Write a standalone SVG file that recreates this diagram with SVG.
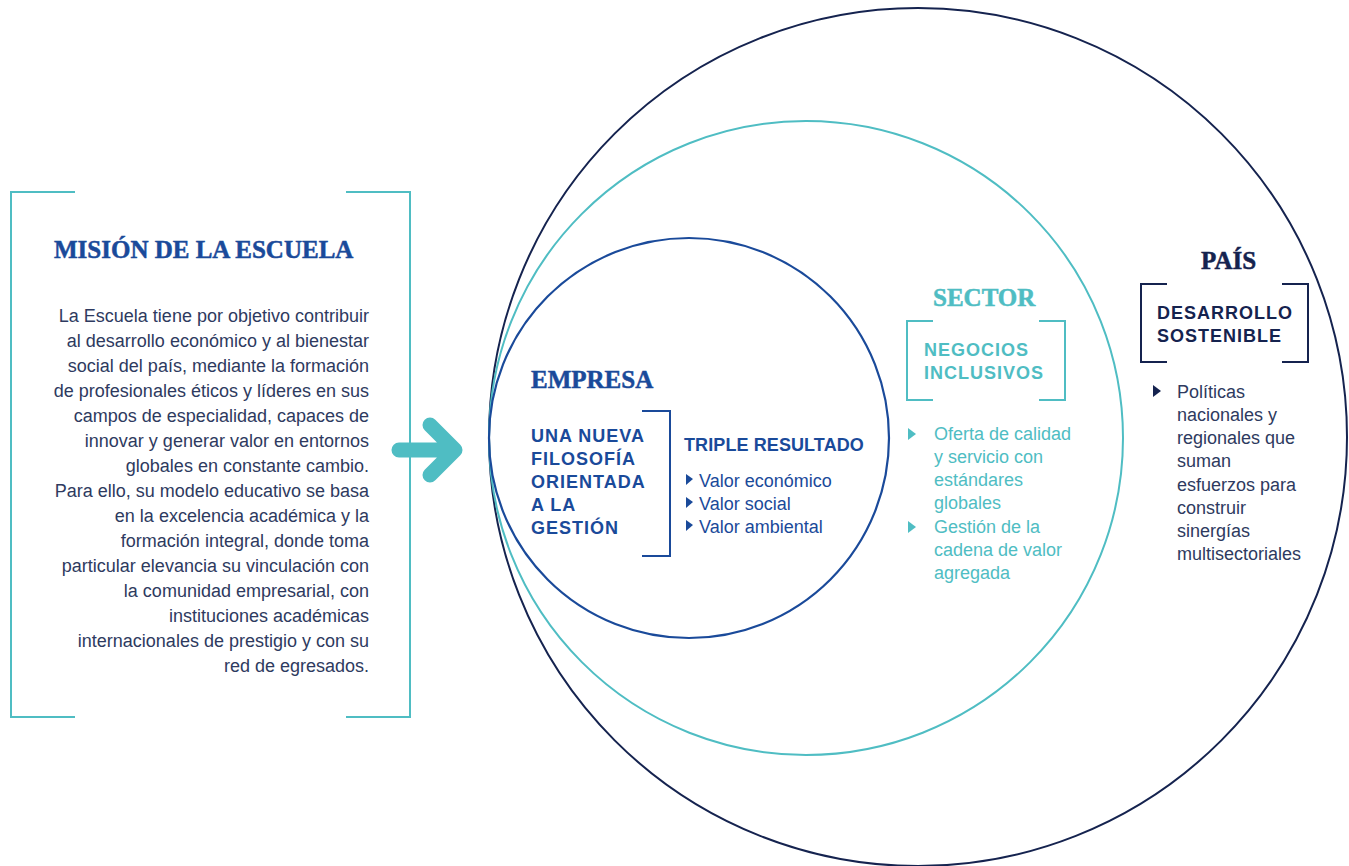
<svg xmlns="http://www.w3.org/2000/svg" width="1349" height="866" viewBox="0 0 1349 866">
<style>
.bg{fill:#ffffff}
.ser{font-family:"Liberation Serif","Times New Roman",serif;font-weight:bold;font-size:25px;stroke-width:0.5px}
.hd{font-family:"Liberation Sans",Arial,sans-serif;font-weight:bold;font-size:18px;letter-spacing:1px}
.bd{font-family:"Liberation Sans",Arial,sans-serif;font-size:18px}
.teal{fill:#4fbdc3}
.navy{fill:#15234f}
.blue{fill:#1a4a9a}
.body{fill:#2e3a60}
.ser.teal{stroke:#4fbdc3}
.ser.navy{stroke:#15234f}
.ser.blue{stroke:#1a4a9a}
.brT{fill:none;stroke:#4fbdc3;stroke-width:2}
.brB{fill:none;stroke:#1a4a9a;stroke-width:2}
.brN{fill:none;stroke:#15234f;stroke-width:2}
</style>
<rect class="bg" x="0" y="0" width="1349" height="866"/>

<g id="circles">
  <circle id="pais-circle" cx="918" cy="437" r="429" fill="none" stroke="#15234f" stroke-width="2"/>
  <circle id="sector-circle" cx="806" cy="438" r="317" fill="none" stroke="#4fbdc3" stroke-width="2"/>
  <circle id="empresa-circle" cx="689" cy="438" r="200" fill="none" stroke="#1a4a9a" stroke-width="2.2"/>
</g>

<g id="mision">
  <path class="brT" d="M75 192 H11 V717 H75 M346 192 H410 V717 H346"/>
  <text class="ser blue" x="54" y="258">MISIÓN DE LA ESCUELA</text>
  <g class="bd body" text-anchor="end">
    <text x="369" y="322">La Escuela tiene por objetivo contribuir</text>
    <text x="369" y="347">al desarrollo económico y al bienestar</text>
    <text x="369" y="372">social del país, mediante la formación</text>
    <text x="369" y="397">de profesionales éticos y líderes en sus</text>
    <text x="369" y="422">campos de especialidad, capaces de</text>
    <text x="369" y="447">innovar y generar valor en entornos</text>
    <text x="369" y="472">globales en constante cambio.</text>
    <text x="369" y="497">Para ello, su modelo educativo se basa</text>
    <text x="369" y="522">en la excelencia académica y la</text>
    <text x="369" y="547">formación integral, donde toma</text>
    <text x="369" y="572">particular elevancia su vinculación con</text>
    <text x="369" y="597">la comunidad empresarial, con</text>
    <text x="369" y="622">instituciones académicas</text>
    <text x="369" y="647">internacionales de prestigio y con su</text>
    <text x="369" y="672">red de egresados.</text>
  </g>
</g>

<g id="connectors">
  <path d="M399 450 H455 M430 425 L455 450 L430 475" fill="none" stroke="#4fbdc3" stroke-width="15" stroke-linecap="round" stroke-linejoin="round"/>
</g>

<g id="empresa">
  <text class="ser blue" x="531" y="388">EMPRESA</text>
  <path class="brB" d="M642 411 H670 V556 H642"/>
  <g class="hd blue">
    <text x="531" y="442">UNA NUEVA</text>
    <text x="531" y="465">FILOSOFÍA</text>
    <text x="531" y="488">ORIENTADA</text>
    <text x="531" y="511">A LA</text>
    <text x="531" y="534">GESTIÓN</text>
  </g>
  <text class="hd blue" x="684" y="451" style="letter-spacing:0.1px">TRIPLE RESULTADO</text>
  <g class="blue">
    <path d="M686 474 L693 479 L686 485 Z"/>
    <path d="M686 497 L693 502 L686 508 Z"/>
    <path d="M686 520 L693 525 L686 531 Z"/>
  </g>
  <g class="bd blue">
    <text x="699" y="487">Valor económico</text>
    <text x="699" y="510">Valor social</text>
    <text x="699" y="533">Valor ambiental</text>
  </g>
</g>

<g id="sector">
  <text class="ser teal" x="933" y="306">SECTOR</text>
  <path class="brT" d="M933 321 H907 V400 H933 M1039 321 H1065 V400 H1039"/>
  <g class="hd teal">
    <text x="924" y="356">NEGOCIOS</text>
    <text x="924" y="379">INCLUSIVOS</text>
  </g>
  <g class="teal">
    <path d="M908 428 L916 434 L908 440 Z"/>
    <path d="M908 521 L916 527 L908 533 Z"/>
  </g>
  <g class="bd teal">
    <text x="934" y="440">Oferta de calidad</text>
    <text x="934" y="463">y servicio con</text>
    <text x="934" y="486">estándares</text>
    <text x="934" y="509">globales</text>
    <text x="934" y="533">Gestión de la</text>
    <text x="934" y="556">cadena de valor</text>
    <text x="934" y="579">agregada</text>
  </g>
</g>

<g id="pais">
  <text class="ser navy" x="1201" y="269">PAÍS</text>
  <path class="brN" d="M1167 284 H1141 V362 H1167 M1282 284 H1308 V362 H1282"/>
  <g class="hd navy">
    <text x="1157" y="319">DESARROLLO</text>
    <text x="1157" y="342">SOSTENIBLE</text>
  </g>
  <path class="navy" d="M1153 385 L1161 391 L1153 397 Z"/>
  <g class="bd body">
    <text x="1177" y="398">Políticas</text>
    <text x="1177" y="421">nacionales y</text>
    <text x="1177" y="444">regionales que</text>
    <text x="1177" y="467">suman</text>
    <text x="1177" y="491">esfuerzos para</text>
    <text x="1177" y="514">construir</text>
    <text x="1177" y="537">sinergías</text>
    <text x="1177" y="560">multisectoriales</text>
  </g>
</g>
</svg>
